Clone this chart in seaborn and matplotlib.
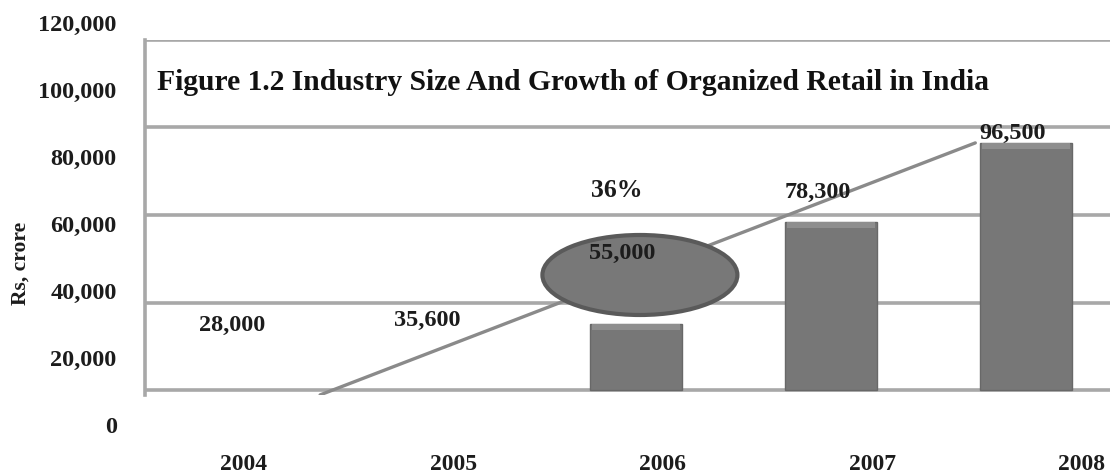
import matplotlib
matplotlib.use("Agg")
import matplotlib.pyplot as plt
from matplotlib.patches import Ellipse
import seaborn as sns
import pandas as pd
import numpy as np

# ---- data ----
years = ["2004", "2005", "2006", "2007", "2008"]
size_labels = [28000, 35600, 55000, 78300, 96500]      # printed values (Rs. crore)
bar_heights = [np.nan, np.nan, 18900, 48000, 70600]    # drawn bar heights (inner chart scale)
trend_x = [0.38, 3.74]                                 # growth line ends (category units)
trend_y = [-1400, 70600]
growth_label = "36%"
y_ticks = [0, 20000, 40000, 60000, 80000, 100000, 120000]
grid_levels = [0, 25000, 50000, 75000, 100000]
title = "Figure 1.2 Industry Size And Growth of Organized Retail in India"

# ---- layout / style ----
label_y = [18570, 20000, 39140, 56570, 73430]
FONT = ["Liberation Serif", "DejaVu Serif"]
TXT = "#1c1c1c"
GRID = "#a8a8a8"

sns.set_theme(style="white")
plt.rcParams["font.family"] = FONT
plt.rcParams["font.weight"] = "bold"

W, H = 1110, 473
fig = plt.figure(figsize=(W / 100, H / 100), dpi=100)

# outer axes: only carries the tick labels
ax_out = fig.add_axes([125 / W, (H - 425) / H, (W - 125) / W, 402 / H])
ax_out.set_ylim(0, 120000)
ax_out.set_yticks(y_ticks)
ax_out.set_yticklabels([f"{v:,}" for v in y_ticks], fontsize=17.5, fontweight="bold", color=TXT)
ax_out.set_xlim(-0.568, 4.134)
ax_out.set_xticks(range(len(years)))
ax_out.set_xticklabels(years, fontsize=17, fontweight="bold", color=TXT)
ax_out.tick_params(axis="y", length=0, pad=6)
ax_out.tick_params(axis="x", length=0, pad=21)
for s in ax_out.spines.values():
    s.set_visible(False)
ax_out.patch.set_visible(False)
ax_out.set_ylabel("Rs, crore", fontsize=15.5, fontweight="bold", color=TXT)
ax_out.yaxis.set_label_coords((31 - 125) / 985, (425 - 263) / 402)

# inner chart
ax = fig.add_axes([145 / W, (H - 395.25) / H, (1120 - 145) / W, 355.25 / H])
ax.patch.set_alpha(0)
df = pd.DataFrame({"year": years, "value": bar_heights})
sns.barplot(data=df, x="year", y="value", ax=ax, color="#777777", width=0.47,
            saturation=1, edgecolor="#686868", linewidth=1, zorder=2)
# light bevel along the top of each bar
for p in ax.patches:
    h = p.get_height()
    if np.isfinite(h) and h > 0:
        ax.bar(p.get_x() + p.get_width() / 2, 1800, bottom=h - 1800,
               width=p.get_width() * 0.96, color="#8e8e8e", linewidth=0, zorder=2.5)
sns.lineplot(x=trend_x, y=trend_y, ax=ax, color="#8a8a8a", linewidth=2.4, zorder=3)
ax.add_patch(Ellipse((2.02, 32860), 1.0, 22860, facecolor="#787878",
                     edgecolor="#5a5a5a", linewidth=3, zorder=4))

ax.set_xlim(-0.518, 4.482)
ax.set_ylim(-1500, 100000)
ax.set_yticks(grid_levels)
ax.set_yticklabels([])
ax.set_xticks([])
ax.set_xlabel("")
ax.set_ylabel("")
ax.tick_params(length=0)
ax.grid(axis="y", color=GRID, linewidth=2.6, zorder=1)
ax.set_axisbelow(True)
for name, s in ax.spines.items():
    s.set_visible(name == "left")
ax.spines["left"].set_color(GRID)
ax.spines["left"].set_linewidth(2.6)

for i, v in enumerate(size_labels):
    ax.text(i - 0.07, label_y[i], f"{v:,}", ha="center", va="center",
            fontsize=17.5, fontweight="bold", color=TXT, zorder=6)
ax.text(1.90, 57140, growth_label, ha="center", va="center",
        fontsize=18.5, fontweight="bold", color=TXT, zorder=6)

ax.text(12 / 975, (395.25 - 83) / 355.25, title, transform=ax.transAxes,
        ha="left", va="center", fontsize=21.3, fontweight="bold", color="#111111")

fig.savefig("out.png", dpi=100)
